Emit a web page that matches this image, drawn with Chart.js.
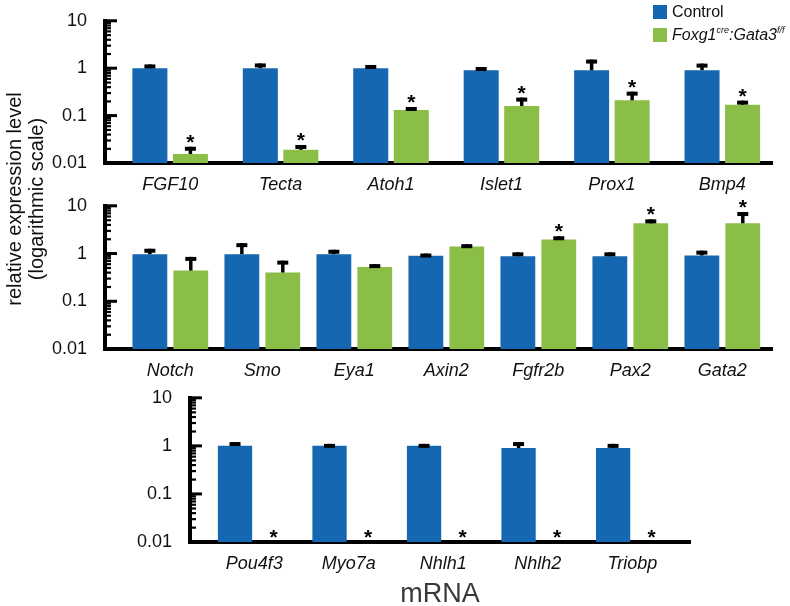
<!DOCTYPE html>
<html>
<head>
<meta charset="utf-8">
<script src="https://cdn.jsdelivr.net/npm/chart.js@4.4.1/dist/chart.umd.min.js"></script>
<style>
    body { margin: 0; background: #fff; }
    .wrap { position: relative; width: 790px; height: 606px; overflow: hidden; font-family: "Liberation Sans", Arial, sans-serif; }
    .wrap canvas { position: absolute; left: 0; }
    .y_title { position: absolute; left: 25px; top: 199px; width: 300px; margin-left: -150px; margin-top: -22px;
               transform: rotate(-90deg); text-align: center; font-size: 20px; line-height: 22px; color: #111; }
    .legend { position: absolute; left: 653px; top: 4px; font-size: 16px; color: #111; }
    .legend div { height: 23px; line-height: 16px; white-space: nowrap; }
    .legend span.box { display: inline-block; width: 14px; height: 14px; vertical-align: -2px; margin-right: 5px; }
    .legend sup { font-size: 9px; vertical-align: 7px; line-height: 0; }
</style>
</head>
<body>
<div class="wrap">
    <canvas id="chart1" width="790" height="200" style="top:0px"></canvas>
    <canvas id="chart2" width="790" height="200" style="top:185px"></canvas>
    <canvas id="chart3" width="790" height="234" style="top:377px"></canvas>
    <div class="y_title">relative expression level<br>(logarithmic scale)</div>
    <div class="legend">
        <div><span class="box" style="background:#1467b0"></span>Control</div>
        <div><span class="box" style="background:#8bbe47"></span><i>Foxg1<sup>cre</sup>:Gata3<sup>f/f</sup></i></div>
    </div>
</div>

<script>
// ---- data ----
var yTicks = [0.01, 0.1, 1, 10];
var minorSteps = [2, 3, 4, 5, 6, 7, 8, 9];

// panel 1
var genes1 = ['FGF10', 'Tecta', 'Atoh1', 'Islet1', 'Prox1', 'Bmp4'];
var control1 = [1.0, 1.0, 1.0, 0.9, 0.9, 0.91];
var control1Err = [1.2, 1.26, 1.17, 1.06, 1.52, 1.25];
var mutant1 = [0.0155, 0.019, 0.132, 0.16, 0.21, 0.17];
var mutant1Err = [0.022, 0.024, 0.152, 0.24, 0.32, 0.207];
var star1 = [true, true, true, true, true, true];

// panel 2
var genes2 = ['Notch', 'Smo', 'Eya1', 'Axin2', 'Fgfr2b', 'Pax2', 'Gata2'];
var control2 = [0.97, 0.97, 0.97, 0.9, 0.88, 0.88, 0.91];
var control2Err = [1.26, 1.65, 1.2, 1.0, 1.06, 1.06, 1.15];
var mutant2 = [0.44, 0.40, 0.52, 1.41, 1.96, 4.3, 4.3];
var mutant2Err = [0.85, 0.71, 0.6, 1.57, 2.3, 5.2, 7.4];
var star2 = [false, false, false, false, true, true, true];

// panel 3 (mutant below detection -> no bar)
var genes3 = ['Pou4f3', 'Myo7a', 'Nhlh1', 'Nhlh2', 'Triobp'];
var control3 = [1.0, 1.0, 1.0, 0.9, 0.9];
var control3Err = [1.2, 1.1, 1.1, 1.2, 1.1];
var mutant3 = [null, null, null, null, null];
var mutant3Err = [null, null, null, null, null];
var star3 = [true, true, true, true, true];

var BLUE = '#1467b0';
var GREEN = '#8bbe47';
var FONT = '"Liberation Sans", Arial, sans-serif';

function points(arr) {
    return arr.map(function(v, i){ return {x: i, y: v}; });
}

// error bars, asterisks and inward minor ticks
var figPlugin = {
    id: 'fig',
    afterDatasetsDraw: function(chart) {
        var o = chart.options.plugins.fig;
        var ctx = chart.ctx;
        var ys = chart.scales.y;
        var area = chart.chartArea;
        ctx.save();
        ctx.fillStyle = '#000';
        ctx.strokeStyle = '#000';

        [0, 1].forEach(function(di){
            var meta = chart.getDatasetMeta(di);
            meta.data.forEach(function(bar, i){
                var err = o.errs[di][i];
                var val = chart.data.datasets[di].data[i].y;
                var top = ys.bottom;
                if (val != null && err != null) {
                    top = ys.getPixelForValue(err);
                    ctx.lineWidth = 3.5;
                    ctx.beginPath();
                    ctx.moveTo(bar.x, bar.y);
                    ctx.lineTo(bar.x, top);
                    ctx.stroke();
                    ctx.fillRect(bar.x - 5.5, top, 11, 4);
                }
                if (di === 1 && o.stars[i]) {
                    ctx.font = 'bold 21px ' + FONT;
                    ctx.textAlign = 'center';
                    ctx.textBaseline = 'alphabetic';
                    var m = ctx.measureText('*');
                    var mid = (m.actualBoundingBoxAscent - m.actualBoundingBoxDescent) / 2;
                    ctx.fillText('*', bar.x, top - 8 + mid);
                }
            });
        });

        // inward ticks on y axis
        yTicks.forEach(function(d, k){
            if (k > 0) {
                var py = ys.getPixelForValue(d);
                ctx.fillRect(area.left, py - 1.5, 12, 3);
            }
            if (k < yTicks.length - 1) {
                minorSteps.forEach(function(s){
                    var my = ys.getPixelForValue(d * s);
                    ctx.fillRect(area.left, my - 1, 6, 2.2);
                });
            }
        });
        ctx.restore();
    }
};

function makeOptions(genes, xmin, xmax, pad, xHeight, catPct, barPct, errs, stars, title) {
    return {
        responsive: false,
        animation: false,
        devicePixelRatio: 1,
        layout: { padding: pad },
        datasets: { bar: { categoryPercentage: catPct, barPercentage: barPct } },
        plugins: {
            legend: { display: false },
            tooltip: { enabled: false },
            fig: { errs: errs, stars: stars }
        },
        scales: {
            x: {
                type: 'linear',
                min: xmin,
                max: xmax,
                offset: false,
                bounds: 'data',
                grid: { display: false },
                border: { display: true, color: '#000', width: 4 },
                afterBuildTicks: function(s){
                    s.ticks = genes.map(function(g, i){ return {value: i}; });
                },
                afterFit: function(s){ s.height = xHeight; },
                ticks: {
                    autoSkip: false,
                    maxRotation: 0,
                    padding: 3,
                    color: '#111',
                    font: { family: FONT, size: 18, style: 'italic' },
                    callback: function(v){ return genes[v]; }
                },
                title: title
            },
            y: {
                type: 'logarithmic',
                min: 0.01,
                max: 10,
                grid: { display: false },
                border: { display: true, color: '#000', width: 4 },
                afterBuildTicks: function(s){
                    s.ticks = yTicks.map(function(v){ return {value: v}; });
                },
                afterFit: function(s){ s.width = 80; },
                ticks: {
                    padding: 10,
                    color: '#111',
                    font: { family: FONT, size: 18 },
                    callback: function(v){ return String(v); }
                }
            }
        }
    };
}

function makeData(control, mutant) {
    return {
        datasets: [
            { label: 'Control', data: points(control), backgroundColor: BLUE },
            { label: 'Foxg1cre:Gata3f/f', data: points(mutant), backgroundColor: GREEN }
        ]
    };
}

// panel 1
var ctx1 = document.getElementById('chart1');
var chart1 = new Chart(ctx1, {
    type: 'bar',
    data: makeData(control1, mutant1),
    options: makeOptions(genes1, -0.59, 5.45,
        { left: 25, right: 18, top: 15, bottom: 0 }, 37, 0.734, 0.864,
        [control1Err, mutant1Err], star1, { display: false }),
    plugins: [figPlugin]
});

// panel 2
var ctx2 = document.getElementById('chart2');
var chart2 = new Chart(ctx2, {
    type: 'bar',
    data: makeData(control2, mutant2),
    options: makeOptions(genes2, -0.71, 6.54,
        { left: 25, right: 18, top: 18, bottom: 0 }, 36, 0.89, 0.85,
        [control2Err, mutant2Err], star2, { display: false }),
    plugins: [figPlugin]
});

// panel 3
var ctx3 = document.getElementById('chart3');
var chart3 = new Chart(ctx3, {
    type: 'bar',
    data: makeData(control3, mutant3),
    options: makeOptions(genes3, -0.68, 4.61,
        { left: 110, right: 100, top: 18, bottom: 0 }, 69, 0.815, 0.89,
        [control3Err, mutant3Err], star3,
        { display: true, text: 'mRNA', color: '#3a3a3a', padding: { top: 0, bottom: 0 },
          font: { family: FONT, size: 27 } }),
    plugins: [figPlugin]
});
</script>
</body>
</html>
